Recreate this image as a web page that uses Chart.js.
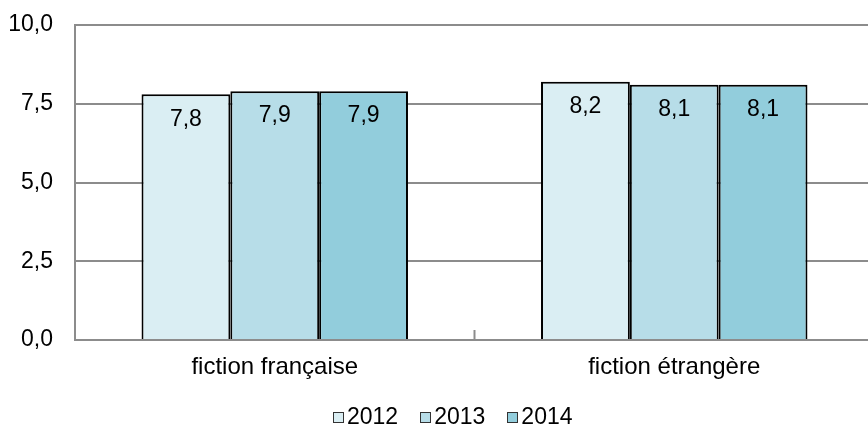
<!DOCTYPE html>
<html>
<head>
<meta charset="utf-8">
<script src="https://cdn.jsdelivr.net/npm/chart.js@4/dist/chart.umd.min.js"></script>
<style>
  html, body { margin: 0; padding: 0; background: #fff; overflow: hidden; }
  #wrap { position: relative; width: 880px; height: 427px; }
  #legend {
    position: absolute; left: 333px; top: 403px;
    font: 23px "Liberation Sans", Arial, sans-serif; color: #000;
    white-space: nowrap; line-height: 26px;
  }
  #legend span.item { margin-right: 22px; }
  #legend i {
    display: inline-block; width: 9px; height: 9px;
    border: 1px solid #333; margin-right: 3px; vertical-align: 1px;
  }
</style>
</head>
<body>
<div id="wrap"><canvas id="chart"></canvas><div id="legend"></div></div>
<script>
// categories et valeurs
const categories = ['fiction française', 'fiction étrangère'];
const years = ['2012', '2013', '2014'];
const values2012 = [7.8, 8.2];
const values2013 = [7.9, 8.1];
const values2014 = [7.9, 8.1];
const colors = ['#DAEEF3', '#B7DDE8', '#92CDDC'];

const FONT = '"Liberation Sans", Arial, sans-serif';
const fmt = v => v.toFixed(1).replace('.', ',');

// etiquettes de valeurs dans le haut des barres
const valueLabels = {
  id: 'valueLabels',
  afterDatasetsDraw(chart) {
    const ctx = chart.ctx;
    ctx.save();
    ctx.font = '23px ' + FONT;
    ctx.fillStyle = '#000';
    ctx.textAlign = 'center';
    ctx.textBaseline = 'middle';
    chart.data.datasets.forEach((ds, i) => {
      chart.getDatasetMeta(i).data.forEach((bar, j) => {
        ctx.fillText(fmt(ds.data[j]), bar.x, bar.y + 25);
      });
    });
    ctx.restore();
  }
};

// petite graduation entre les categories, tournee vers l'interieur
const midTicks = {
  id: 'midTicks',
  afterDraw(chart) {
    const x = chart.scales.x;
    const ctx = chart.ctx;
    ctx.save();
    ctx.strokeStyle = '#8c8c8c';
    ctx.lineWidth = 2;
    for (let i = 0; i < categories.length - 1; i++) {
      const px = (x.getPixelForValue(i) + x.getPixelForValue(i + 1)) / 2;
      ctx.beginPath();
      ctx.moveTo(px, chart.chartArea.bottom);
      ctx.lineTo(px, chart.chartArea.bottom - 10);
      ctx.stroke();
    }
    ctx.restore();
  }
};

const datasetValues = [values2012, values2013, values2014];

const chart = new Chart(document.getElementById('chart'), {
  type: 'bar',
  data: {
    labels: categories,
    datasets: years.map((y, i) => ({
      label: y,
      data: datasetValues[i],
      backgroundColor: colors[i],
      borderColor: '#000',
      borderWidth: 2,
      barPercentage: 1,
      categoryPercentage: 0.667
    }))
  },
  options: {
    responsive: true,
    maintainAspectRatio: false,
    animation: false,
    layout: { padding: { top: 0, right: 6, bottom: 38, left: 8 } },
    scales: {
      y: {
        min: 0,
        max: 10,
        afterFit: s => { s.width = 67; s.paddingTop = 25; s.paddingBottom = 0; },
        ticks: {
          stepSize: 2.5,
          padding: 22,
          color: '#000',
          font: { size: 23, family: FONT },
          callback: v => fmt(v)
        },
        grid: { color: '#8c8c8c', lineWidth: 2, drawTicks: false },
        border: { color: '#8c8c8c', width: 2 }
      },
      x: {
        afterFit: s => { s.height = 49; },
        ticks: {
          padding: 5,
          color: '#000',
          font: { size: 24, family: FONT }
        },
        grid: { display: false },
        border: { color: '#8c8c8c', width: 2 }
      }
    },
    plugins: {
      legend: { display: false },
      tooltip: { enabled: false }
    }
  },
  plugins: [valueLabels, midTicks]
});

// legende en HTML (carre colle au texte, comme sur l'original)
document.getElementById('legend').innerHTML = chart.data.datasets
  .map(ds => `<span class="item"><i style="background:${ds.backgroundColor}"></i>${ds.label}</span>`)
  .join('');
</script>
</body>
</html>
